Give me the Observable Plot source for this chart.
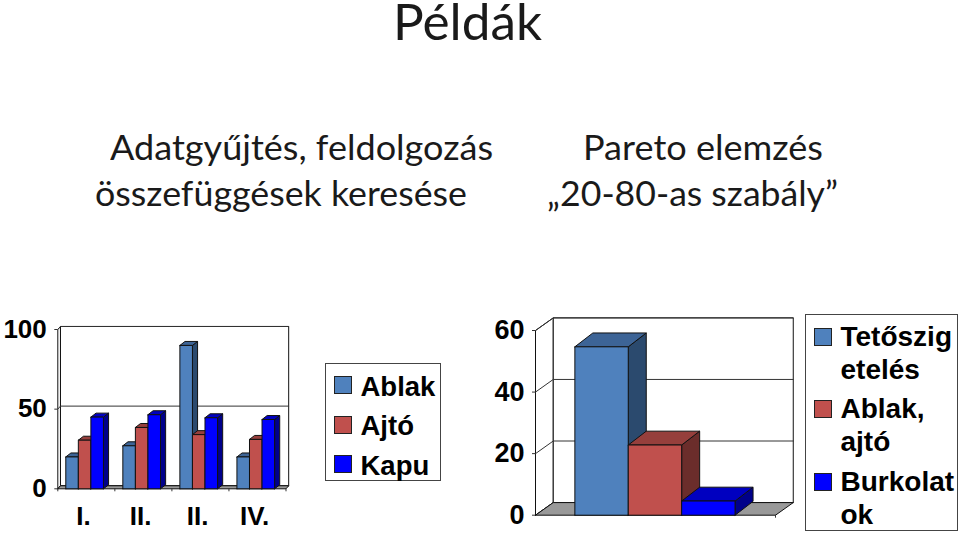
<!DOCTYPE html>
<html><head><meta charset="utf-8">
<script src="https://cdn.jsdelivr.net/npm/d3@7"></script>
<script src="https://cdn.jsdelivr.net/npm/@observablehq/plot@0.6"></script>
<style>
html,body{margin:0;padding:0;background:#fff;width:960px;height:533px;overflow:hidden}
#page{position:relative;width:960px;height:533px;overflow:hidden}
.h{position:absolute;white-space:nowrap;font-family:Lato,sans-serif;color:#1a1a1a;transform-origin:0 0;line-height:1}
.chart{position:absolute}
.chart svg{overflow:visible;background:transparent}
.lg{position:absolute;border:1.5px solid #444;box-sizing:border-box;background:#fff}
.sw{position:absolute;width:18px;height:18px;border:1px solid #222;box-sizing:border-box}
.lt{position:absolute;font:bold 27.5px "Liberation Sans",Arial,sans-serif;color:#000;line-height:1;white-space:nowrap}
</style></head><body><div id="page"></div>
<script>
// ---- data ----
const quarters = ["I.", "II.", "II.", "IV."];
const ablak = [20, 27, 90, 20];
const ajto = [30.5, 38.5, 34, 31];
const kapu = [45, 46.5, 44.6, 43.5];
const paretoNames = ["Tetőszigetelés", "Ablak, ajtó", "Burkolatok"];
const paretoValues = [54.7, 22.8, 4.6];
const ticks1 = [0, 50, 100];
const ticks2 = [0, 20, 40, 60];
const seriesColors = ["#4f81bd", "#c0504d", "#0000ff"];
const sideColors = ["#2b4a6e", "#6b2d2b", "#00008a"];
const topColors = ["#3d6496", "#963f3c", "#0000c0"];

const page = document.getElementById("page");
const FONT = '"Liberation Sans",Arial,sans-serif';

function poly(rows, id, color, pts) {
  pts.concat([pts[0]]).forEach(([x, y]) => rows.push({id, color, x, y}));
}
function bar(rows, id, s, x1, x2, v, dx, dy) {
  poly(rows, id + "s", sideColors[s], [[x2,0],[x2+dx,dy],[x2+dx,v+dy],[x2,v]]);
  poly(rows, id + "t", topColors[s], [[x1,v],[x2,v],[x2+dx,v+dy],[x1+dx,v+dy]]);
  poly(rows, id + "f", seriesColors[s], [[x1,0],[x2,0],[x2,v],[x1,v]]);
}
function shell(xMax, yMax, dx, dy) {
  const rows = [];
  poly(rows, "wall", "#ffffff", [[0,0],[dx,dy],[dx,yMax+dy],[0,yMax]]);
  poly(rows, "back", "#ffffff", [[dx,dy],[xMax+dx,dy],[xMax+dx,yMax+dy],[dx,yMax+dy]]);
  return rows;
}
function floor(xMax, dx, dy) {
  const rows = [];
  poly(rows, "floor", "#999999", [[0,0],[xMax,0],[xMax+dx,dy],[dx,dy]]);
  return rows;
}
const polyMark = (rows, sw) => Plot.line(rows, {x:"x", y:"y", z:"id", fill:d=>d.color, stroke:"#111", strokeWidth:sw, strokeLinejoin:"round"});

// ---- left chart ----
{
  const dx = 0.047, dy = 1.9, bw = 0.22, start = 0.14, bdx = 0.09, bdy = 2.5;
  const bars = [];
  [ablak, ajto, kapu].forEach((vals, s) => vals.forEach((v, i) => {
    const x1 = i + start + s * bw;
    bar(bars, `b${i}-${s}`, s, x1, x1 + bw, v, bdx, bdy);
  }));
  const order = d3.groups(bars, d => d.id.slice(0, d.id.indexOf("-"))).flatMap(g => g[1]);
  const p = Plot.plot({
    width:300, height:233, marginLeft:57.3, marginRight:14.5, marginTop:29, marginBottom:44.7,
    style:{fontFamily:FONT, overflow:"visible"},
    x:{domain:[0,4], axis:null}, y:{domain:[0,100], axis:null},
    color:{type:"identity"},
    marks:[
      polyMark(shell(4,100,dx,dy), 1),
      Plot.line(ticks1.flatMap(t=>[{t,x:0,y:t},{t,x:dx,y:t+dy},{t,x:4+dx,y:t+dy}]), {x:"x",y:"y",z:"t",stroke:"#333",strokeWidth:1}),
      polyMark(floor(4,dx,dy), 1),
      polyMark(order, 1),
      Plot.axisY({ticks:ticks1, tickSize:3, tickPadding:8, label:null, fontSize:26, fontWeight:"bold", fill:"#000", stroke:"#333"}),
      Plot.axisX({ticks:[0,1,2,3,4], tickSize:3, tickFormat:()=>"", label:null, stroke:"#333"}),
      Plot.text(quarters, {x:(d,i)=>i+0.45, y:()=>0, text:d=>d, dy:27.5, fontSize:26, fontWeight:"bold", fill:"#000"})
    ]
  });
  const c = document.createElement("div"); c.className="chart"; c.style.cssText="left:0;top:300px"; c.append(p); page.append(c);
}

// ---- right chart ----
{
  const dx = 0.074, dy = 4.1, bw = 0.2225, start = 0.164, bdx = 0.075, bdy = 4.5;
  const bars = [];
  paretoValues.forEach((v, s) => {
    const x1 = start + s * bw;
    bar(bars, `p${s}`, s, x1, x1 + bw, v, bdx, bdy);
  });
  const p = Plot.plot({
    width:320, height:233, marginLeft:45, marginRight:35, marginTop:30, marginBottom:18.3,
    style:{fontFamily:FONT, overflow:"visible"},
    x:{domain:[0,1], axis:null}, y:{domain:[0,60], axis:null},
    color:{type:"identity"},
    marks:[
      polyMark(shell(1,60,dx,dy), 1),
      Plot.line(ticks2.flatMap(t=>[{t,x:0,y:t},{t,x:dx,y:t+dy},{t,x:1+dx,y:t+dy}]), {x:"x",y:"y",z:"t",stroke:"#333",strokeWidth:1}),
      polyMark(floor(1,dx,dy), 1),
      polyMark(bars, 1),
      Plot.axisY({ticks:ticks2, tickSize:3, tickPadding:8, label:null, fontSize:27, fontWeight:"bold", fill:"#000", stroke:"#333"}),
      Plot.axisX({ticks:[1], tickSize:3, tickFormat:()=>"", label:null, stroke:"#333"})
    ]
  });
  const c = document.createElement("div"); c.className="chart"; c.style.cssText="left:490px;top:300px"; c.append(p); page.append(c);
}

// ---- headings ----
const headings = [
  ["Példák", 393, 149, 0, 50, 0.85],
  ["Adatgyűjtés, feldolgozás", 110, 383, 129, 35, 1],
  ["összefüggések keresése", 95, 372, 175, 35, 1],
  ["Pareto elemzés", 583, 240, 129, 35, 1],
  ["„20-80-as szabály”", 547, 291, 175, 35, 1]
];
headings.forEach(([t,x,w,y,fs,lh]) => {
  const e = document.createElement("div"); e.className="h"; e.textContent=t;
  e.style.cssText=`left:${x}px;top:${y}px;font-size:${fs}px;line-height:${lh}`;
  page.append(e);
  const r = e.getBoundingClientRect().width;
  e.style.transform=`scaleX(${w/r})`;
});

// ---- legends ----
function legend(x,y,w,h,items){
  const b=document.createElement("div"); b.className="lg";
  b.style.cssText=`left:${x}px;top:${y}px;width:${w}px;height:${h}px`;
  page.append(b);
  items.forEach(([c,sy])=>{ const s=document.createElement("div"); s.className="sw"; s.style.cssText=`left:${x+8.5}px;top:${sy}px;background:${c}`; page.append(s); });
}
function label(t,x,y,fs){ const e=document.createElement("div"); e.className="lt"; e.textContent=t; e.style.cssText=`left:${x}px;top:${y}px;font-size:${fs}px`; page.append(e); }
legend(325,363,116,118,[[seriesColors[0],376],[seriesColors[1],415.5],[seriesColors[2],455]]);
[["Ablak",373],["Ajtó",411.5],["Kapu",452]].forEach(([t,y])=>label(t,360.5,y,27.5));
legend(805,314,153,217,[[seriesColors[0],327.5],[seriesColors[1],399.5],[seriesColors[2],472.5]]);
[["Tetőszig",323],["etelés",356],["Ablak,",394.5],["ajtó",428],["Burkolat",468],["ok",500.5]].forEach(([t,y])=>label(t,840.5,y,28));
</script></body></html>
